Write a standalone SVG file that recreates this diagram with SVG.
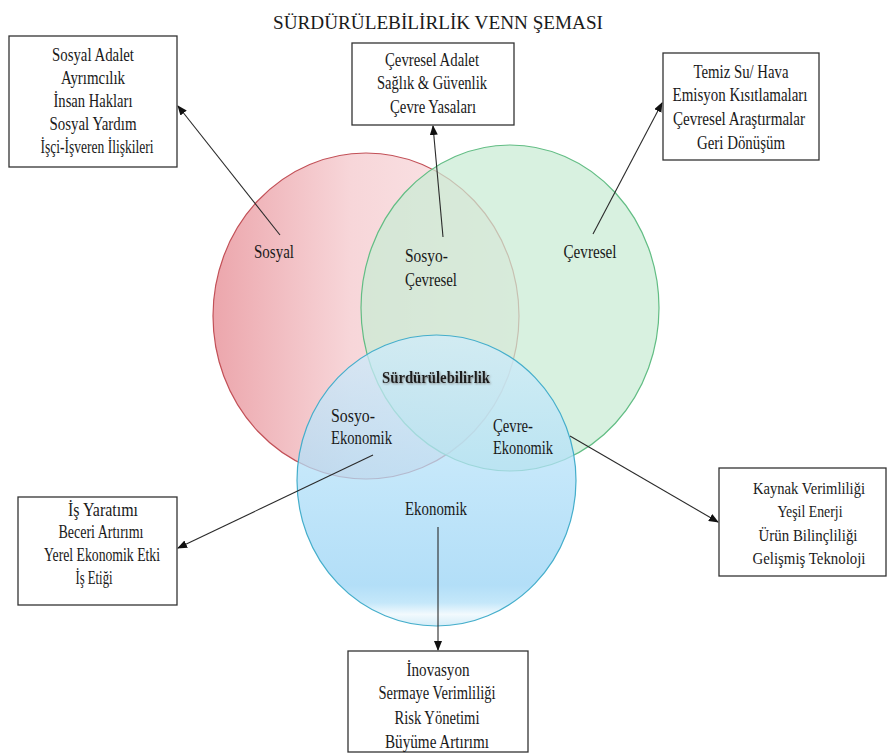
<svg xmlns="http://www.w3.org/2000/svg" width="888" height="756" viewBox="0 0 888 756">
<style>
  text { font-family: "Liberation Serif", "Times New Roman", serif; font-size: 19px; fill: #1a1a1a; text-anchor: middle; }
  .lbl { text-anchor: start; }
  .box { fill: #ffffff; stroke: #333333; stroke-width: 1.3; }
  .conn { stroke: #2a2a2a; stroke-width: 1.1; fill: none; marker-end: url(#arr); }
  .bold { font-weight: bold; font-size: 17px; }
  .sm { font-size: 17px; }
</style>
<defs>
  <marker id="arr" markerUnits="userSpaceOnUse" markerWidth="10" markerHeight="8" refX="9" refY="4" orient="auto">
    <path d="M0,0 L10,4 L0,8 z" fill="#111111"/>
  </marker>
  <linearGradient id="gRed" x1="0" y1="0" x2="1" y2="0">
    <stop offset="0" stop-color="#eca6ac"/>
    <stop offset="0.45" stop-color="#f7d6d9"/>
    <stop offset="1" stop-color="#fbe9eb"/>
  </linearGradient>
  <linearGradient id="gBlue" x1="0" y1="0" x2="0" y2="1">
    <stop offset="0" stop-color="#d0ecfb"/>
    <stop offset="0.5" stop-color="#aedef8"/>
    <stop offset="0.86" stop-color="#98d3f5"/>
    <stop offset="0.92" stop-color="#b0dff8"/>
    <stop offset="0.96" stop-color="#eef8fd"/>
    <stop offset="1" stop-color="#c4e6f6"/>
  </linearGradient>
  <filter id="shadow" x="-10%" y="-30%" width="120%" height="160%">
    <feDropShadow dx="1" dy="1" stdDeviation="0.8" flood-color="#777777" flood-opacity="0.8"/>
  </filter>
</defs>

<text x="438" y="29" font-size="23" textLength="330" lengthAdjust="spacingAndGlyphs">SÜRDÜRÜLEBİLİRLİK VENN ŞEMASI</text>

<g id="venn">
  <g id="sosyal">
    <ellipse cx="366" cy="316" rx="153" ry="163" fill="url(#gRed)" stroke="#c25057" stroke-width="1.2"/>
  </g>
  <g id="cevresel">
    <ellipse cx="510" cy="308" rx="149" ry="163" fill="#c9ecd4" fill-opacity="0.72" stroke="#62bd84" stroke-width="1.2"/>
  </g>
  <g id="ekonomik">
    <ellipse cx="436.5" cy="480.5" rx="139.5" ry="145.5" fill="url(#gBlue)" fill-opacity="0.74" stroke="#45aecb" stroke-width="1.2"/>
  </g>
  <text x="274" y="258" textLength="40" lengthAdjust="spacingAndGlyphs">Sosyal</text>
  <text class="lbl" x="405" y="262" textLength="43" lengthAdjust="spacingAndGlyphs">Sosyo-</text>
  <text class="lbl" x="405" y="286" textLength="52" lengthAdjust="spacingAndGlyphs">Çevresel</text>
  <text x="590" y="258" textLength="53" lengthAdjust="spacingAndGlyphs">Çevresel</text>
  <text class="bold" x="436" y="383" textLength="108" lengthAdjust="spacingAndGlyphs" filter="url(#shadow)">Sürdürülebilirlik</text>
  <text class="lbl" x="331" y="422" textLength="44" lengthAdjust="spacingAndGlyphs">Sosyo-</text>
  <text class="lbl" x="331" y="444" textLength="61" lengthAdjust="spacingAndGlyphs">Ekonomik</text>
  <text class="lbl" x="493" y="432" textLength="40" lengthAdjust="spacingAndGlyphs">Çevre-</text>
  <text class="lbl" x="493" y="454" textLength="60" lengthAdjust="spacingAndGlyphs">Ekonomik</text>
  <text x="436" y="515" textLength="62" lengthAdjust="spacingAndGlyphs">Ekonomik</text>
</g>

<g id="connectors">
  <line class="conn" x1="280" y1="235" x2="178" y2="106"/>
  <line class="conn" x1="443" y1="237" x2="433" y2="126"/>
  <line class="conn" x1="593" y1="234" x2="662" y2="103"/>
  <line class="conn" x1="373" y1="455" x2="178" y2="548"/>
  <line class="conn" x1="570" y1="436" x2="718" y2="522"/>
  <line class="conn" x1="438" y1="527" x2="438" y2="650"/>
</g>

<g id="box-sosyal">
  <rect class="box" x="9" y="36" width="168" height="131"/>
  <text x="93" y="61" textLength="82" lengthAdjust="spacingAndGlyphs">Sosyal Adalet</text>
  <text x="93" y="84" textLength="64" lengthAdjust="spacingAndGlyphs">Ayrımcılık</text>
  <text x="93" y="107" textLength="79" lengthAdjust="spacingAndGlyphs">İnsan Hakları</text>
  <text x="93" y="130" textLength="87" lengthAdjust="spacingAndGlyphs">Sosyal Yardım</text>
  <text x="97" y="153" textLength="113" lengthAdjust="spacingAndGlyphs">İşçi-İşveren İlişkileri</text>
</g>

<g id="box-sosyo-cevresel">
  <rect class="box" x="352" y="43" width="162" height="82"/>
  <text x="432" y="66" textLength="94" lengthAdjust="spacingAndGlyphs">Çevresel Adalet</text>
  <text x="432" y="89" textLength="110" lengthAdjust="spacingAndGlyphs">Sağlık &amp; Güvenlik</text>
  <text x="433" y="113" textLength="86" lengthAdjust="spacingAndGlyphs">Çevre Yasaları</text>
</g>

<g id="box-cevresel">
  <rect class="box" x="663" y="53" width="156" height="107"/>
  <text x="741" y="78" textLength="95" lengthAdjust="spacingAndGlyphs">Temiz Su/ Hava</text>
  <text x="740" y="101" textLength="135" lengthAdjust="spacingAndGlyphs">Emisyon Kısıtlamaları</text>
  <text x="739" y="125" textLength="132" lengthAdjust="spacingAndGlyphs">Çevresel Araştırmalar</text>
  <text x="741" y="149" textLength="88" lengthAdjust="spacingAndGlyphs">Geri Dönüşüm</text>
</g>

<g id="box-sosyo-ekonomik">
  <rect class="box" x="18" y="497" width="159" height="108"/>
  <text x="103" y="516" textLength="70" lengthAdjust="spacingAndGlyphs">İş Yaratımı</text>
  <text x="101" y="538" textLength="85" lengthAdjust="spacingAndGlyphs">Beceri Artırımı</text>
  <text x="102" y="561" textLength="116" lengthAdjust="spacingAndGlyphs">Yerel Ekonomik Etki</text>
  <text x="94" y="584" textLength="37" lengthAdjust="spacingAndGlyphs">İş Etiği</text>
</g>

<g id="box-cevre-ekonomik">
  <rect class="box" x="719" y="468" width="167" height="108"/>
  <text class="sm" x="809" y="494" textLength="112" lengthAdjust="spacingAndGlyphs">Kaynak Verimliliği</text>
  <text class="sm" x="810" y="517" textLength="65" lengthAdjust="spacingAndGlyphs">Yeşil Enerji</text>
  <text class="sm" x="808" y="541" textLength="99" lengthAdjust="spacingAndGlyphs">Ürün Bilinçliliği</text>
  <text class="sm" x="809" y="564" textLength="113" lengthAdjust="spacingAndGlyphs">Gelişmiş Teknoloji</text>
</g>

<g id="box-ekonomik">
  <rect class="box" x="348" y="651" width="180" height="101"/>
  <text x="438" y="676" textLength="63" lengthAdjust="spacingAndGlyphs">İnovasyon</text>
  <text x="437" y="699" textLength="117" lengthAdjust="spacingAndGlyphs">Sermaye Verimliliği</text>
  <text x="437" y="724" textLength="85" lengthAdjust="spacingAndGlyphs">Risk Yönetimi</text>
  <text x="437" y="748" textLength="104" lengthAdjust="spacingAndGlyphs">Büyüme Artırımı</text>
</g>
</svg>
